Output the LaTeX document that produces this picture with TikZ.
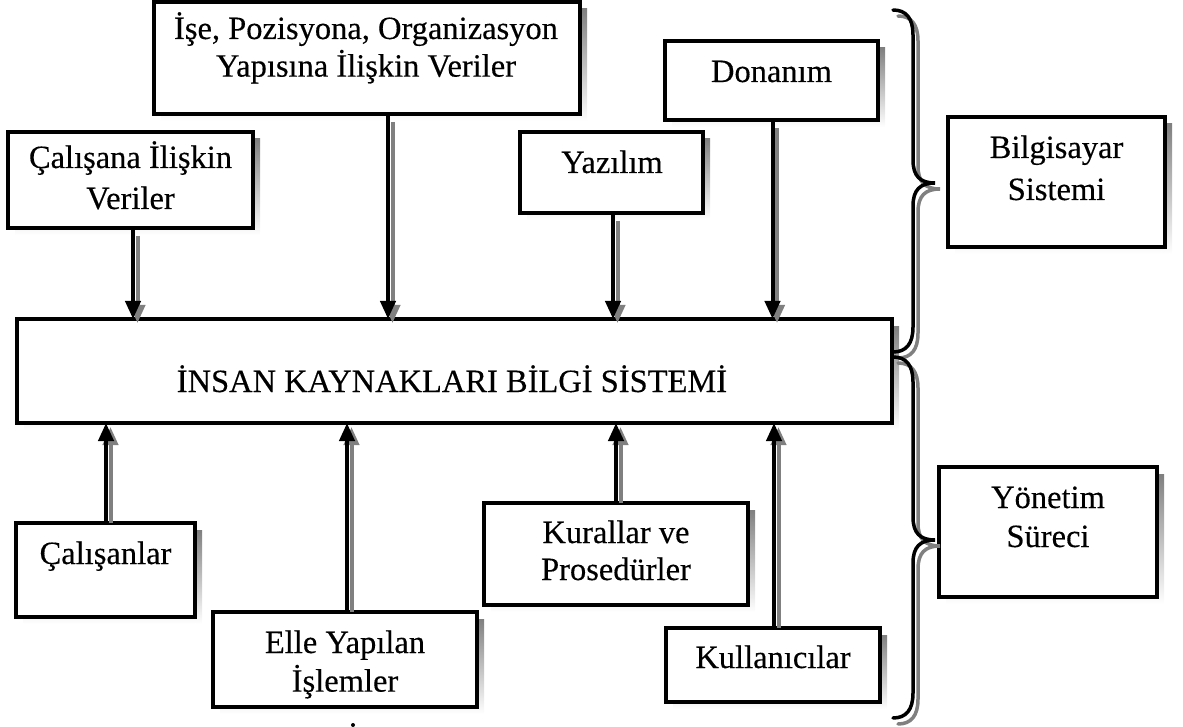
\documentclass[tikz,border=0pt]{standalone}
\usepackage{fontspec}
\setmainfont{Liberation Serif}[FakeBold=0.3]
\usetikzlibrary{arrows.meta}

\definecolor{shade}{HTML}{808080}

% two centred lines; the first line's baseline is the node's baseline
\newcommand\twoline[3]{\begin{tabular}[t]{@{}c@{}}#1\\[#3]#2\end{tabular}}

% framed panel with a drop shadow: name, left, top, right, bottom
\newcommand\panel[5]{%
  \fill[shade] (#2+7,#3+7) rectangle (#4+7,#5+7);
  \node[pbox, minimum width={(#4)-(#2)}, minimum height={(#5)-(#3)}]
    (#1) at ({(#2+#4)/2},{(#3+#5)/2}) {};
}

% curly brace opening to the right: top, tip, bottom, style
\newcommand\curlybrace[4]{%
  \draw[#4] (893,#1) .. controls (906,#1) and (913,#1+8) .. (913,#1+25)
    -- (913,#2-23) .. controls (913,#2-7) and (920,#2) .. (935,#2)
    .. controls (920,#2) and (913,#2+7) .. (913,#2+23)
    -- (913,#3-25) .. controls (913,#3-8) and (906,#3) .. (893,#3);
}

\tikzset{
  pbox/.style={draw, line width=4pt, fill=white, inner sep=0pt, outer sep=0pt},
  boxtext/.style={anchor=base, inner sep=0pt, font=\fontsize{32.5}{36}\selectfont},
  feed/.style={line width=4pt, -{Triangle[length=18pt,width=15pt]}},
  feedshadow/.style={feed, color=shade, shorten <=4pt,
    transform canvas={xshift=4.5pt,yshift=-4pt}},
  bracestroke/.style={line width=3.5pt, line cap=round},
  braceshadow/.style={bracestroke, color=shade,
    transform canvas={xshift=5pt,yshift=-6pt}},
}

\begin{document}
\begin{tikzpicture}[x=1pt,y=-1pt]
\useasboundingbox (0,0) rectangle (1183,727);

% panels
\panel{cal}{8}{132}{253}{228}
\panel{ise}{154}{2}{580}{114}
\panel{yaz}{520}{132}{703}{213}
\panel{don}{665}{41}{878}{120}
\panel{bil}{948}{117}{1165}{247}
\panel{main}{17}{319}{892}{423}
\panel{calis}{16}{523}{195}{617}
\panel{elle}{213}{612}{477}{707}
\panel{kur}{484}{503}{748}{605}
\panel{kul}{666}{628}{880}{702}
\panel{yon}{939}{467}{1157}{597}

% panel texts
\node[boxtext] (cal-t) at (130.5,168) {\twoline{Çalışana İlişkin}{Veriler}{5pt}};
\node[boxtext] (ise-t) at (366,39) {\twoline{İşe, Pozisyona, Organizasyon}{Yapısına İlişkin Veriler}{0pt}};
\node[boxtext] (yaz-t) at (612,173) {Yazılım};
\node[boxtext] (don-t) at (771.5,82) {Donanım};
\node[boxtext] (bil-t) at (1056.5,158) {\twoline{Bilgisayar}{Sistemi}{6pt}};
\node[boxtext] (main-t) at (452,392) {İNSAN KAYNAKLARI BİLGİ SİSTEMİ};
\node[boxtext] (calis-t) at (105.5,564) {Çalışanlar};
\node[boxtext] (elle-t) at (345,653) {\twoline{Elle Yapılan}{İşlemler}{1pt}};
\node[boxtext] (kur-t) at (616,543) {\twoline{Kurallar ve}{Prosedürler}{1pt}};
\node[boxtext] (kul-t) at (773,668) {Kullanıcılar};
\node[boxtext] (yon-t) at (1048,508) {\twoline{Yönetim}{Süreci}{3pt}};

% inputs from above
\foreach \src/\dx in {cal/2.5,ise/21,yaz/1.5,don/1}{
  \coordinate (\src-out) at ([xshift=\dx pt]\src.south);
  \draw[feedshadow] (\src-out) -- (\src-out |- main.north);
  \draw[feed] (\src-out) -- (\src-out |- main.north);
}

% inputs from below
\foreach \src/\dx in {calis/0.5,elle/2,kur/0,kul/1}{
  \coordinate (\src-out) at ([xshift=\dx pt]\src.north);
  \draw[feedshadow] (\src-out) -- (\src-out |- main.south);
  \draw[feed] (\src-out) -- (\src-out |- main.south);
}

% grouping braces
\curlybrace{10}{183}{352}{braceshadow}
\curlybrace{10}{183}{352}{bracestroke}
\curlybrace{357}{540}{718}{braceshadow}
\curlybrace{357}{540}{718}{bracestroke}

% stray dot below the manual-work panel
\fill (353,725) circle[radius=2pt];
\end{tikzpicture}
\end{document}
